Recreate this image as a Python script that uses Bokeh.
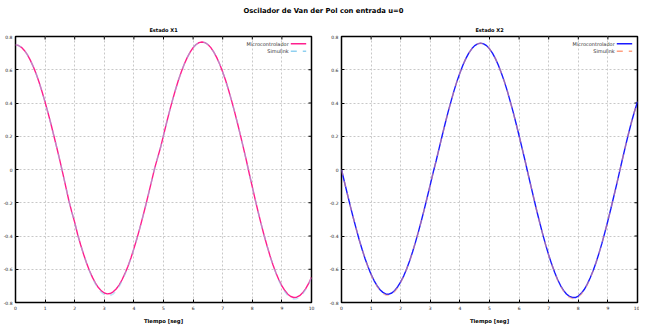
from bokeh.plotting import figure
from bokeh.models import Range1d, FixedTicker, Label, Arrow, Div
from bokeh.layouts import row, column
from bokeh.embed import file_html
from bokeh.resources import INLINE

# ---------------- data ----------------
t = [0.0, 0.1, 0.2, 0.3, 0.4, 0.5, 0.6, 0.7, 0.8, 0.9,
     1.0, 1.1, 1.2, 1.3, 1.4, 1.5, 1.6, 1.7, 1.8, 1.9,
     2.0, 2.1, 2.2, 2.3, 2.4, 2.5, 2.6, 2.7, 2.8, 2.9,
     3.0, 3.1, 3.2, 3.3, 3.4, 3.5, 3.6, 3.7, 3.8, 3.9,
     4.0, 4.1, 4.2, 4.3, 4.4, 4.5, 4.6, 4.7, 4.8, 4.9,
     5.0, 5.1, 5.2, 5.3, 5.4, 5.5, 5.6, 5.7, 5.8, 5.9,
     6.0, 6.1, 6.2, 6.3, 6.4, 6.5, 6.6, 6.7, 6.8, 6.9,
     7.0, 7.1, 7.2, 7.3, 7.4, 7.5, 7.6, 7.7, 7.8, 7.9,
     8.0, 8.1, 8.2, 8.3, 8.4, 8.5, 8.6, 8.7, 8.8, 8.9,
     9.0, 9.1, 9.2, 9.3, 9.4, 9.5, 9.6, 9.7, 9.8, 9.9, 10.0]

x1_micro = [0.750, 0.746, 0.735, 0.716, 0.691, 0.658, 0.619, 0.574, 0.523, 0.466,
            0.405, 0.340, 0.272, 0.200, 0.128, 0.053, -0.025, -0.105, -0.185, -0.255,
            -0.318, -0.391, -0.453, -0.510, -0.562, -0.609, -0.649, -0.683, -0.710, -0.730,
            -0.743, -0.748, -0.746, -0.736, -0.719, -0.695, -0.663, -0.625, -0.582, -0.532,
            -0.476, -0.417, -0.353, -0.285, -0.215, -0.142, -0.068, 0.007, 0.070, 0.132,
            0.205, 0.278, 0.348, 0.414, 0.477, 0.535, 0.587, 0.633, 0.673, 0.706,
            0.733, 0.752, 0.763, 0.767, 0.763, 0.752, 0.733, 0.706, 0.673, 0.633,
            0.587, 0.535, 0.477, 0.414, 0.348, 0.278, 0.205, 0.130, 0.054, -0.027,
            -0.104, -0.183, -0.257, -0.329, -0.397, -0.460, -0.520, -0.574, -0.622, -0.665,
            -0.700, -0.728, -0.750, -0.764, -0.770, -0.768, -0.759, -0.742, -0.718, -0.687,
            -0.648]
x1_sim = [0.750, 0.746, 0.735, 0.716, 0.691, 0.658, 0.619, 0.574, 0.523, 0.466,
          0.405, 0.340, 0.272, 0.200, 0.128, 0.053, -0.025, -0.105, -0.185, -0.255,
          -0.318, -0.391, -0.453, -0.510, -0.563, -0.611, -0.652, -0.688, -0.717, -0.739,
          -0.753, -0.759, -0.758, -0.748, -0.730, -0.704, -0.670, -0.629, -0.584, -0.533,
          -0.476, -0.417, -0.353, -0.285, -0.215, -0.142, -0.068, 0.007, 0.070, 0.132,
          0.205, 0.278, 0.348, 0.414, 0.477, 0.535, 0.587, 0.633, 0.673, 0.706,
          0.733, 0.752, 0.763, 0.767, 0.763, 0.752, 0.733, 0.706, 0.673, 0.633,
          0.587, 0.535, 0.477, 0.414, 0.348, 0.278, 0.205, 0.130, 0.054, -0.027,
          -0.104, -0.183, -0.257, -0.329, -0.397, -0.460, -0.520, -0.575, -0.624, -0.668,
          -0.705, -0.735, -0.758, -0.773, -0.779, -0.777, -0.767, -0.749, -0.723, -0.690,
          -0.650]

x2_micro = [0.000, -0.075, -0.149, -0.222, -0.292, -0.359, -0.424, -0.483, -0.538, -0.587,
            -0.631, -0.668, -0.699, -0.723, -0.739, -0.750, -0.750, -0.743, -0.728, -0.705,
            -0.676, -0.641, -0.598, -0.550, -0.496, -0.437, -0.374, -0.307, -0.237, -0.164,
            -0.091, -0.016, 0.054, 0.129, 0.203, 0.275, 0.345, 0.410, 0.473, 0.530,
            0.581, 0.627, 0.667, 0.700, 0.726, 0.745, 0.756, 0.760, 0.756, 0.745,
            0.726, 0.700, 0.667, 0.627, 0.581, 0.530, 0.473, 0.410, 0.345, 0.275,
            0.203, 0.129, 0.054, -0.024, -0.100, -0.176, -0.251, -0.322, -0.390, -0.455,
            -0.514, -0.569, -0.618, -0.662, -0.698, -0.727, -0.749, -0.763, -0.770, -0.770,
            -0.761, -0.745, -0.722, -0.691, -0.653, -0.609, -0.559, -0.503, -0.443, -0.377,
            -0.308, -0.236, -0.161, -0.086, -0.008, 0.069, 0.145, 0.218, 0.287, 0.350,
            0.408]
x2_sim = [0.000, -0.075, -0.149, -0.222, -0.292, -0.359, -0.424, -0.483, -0.538, -0.588,
          -0.633, -0.671, -0.703, -0.728, -0.745, -0.756, -0.757, -0.750, -0.734, -0.710,
          -0.679, -0.643, -0.599, -0.550, -0.496, -0.437, -0.374, -0.307, -0.237, -0.164,
          -0.091, -0.016, 0.054, 0.129, 0.203, 0.275, 0.345, 0.410, 0.473, 0.530,
          0.581, 0.627, 0.667, 0.700, 0.726, 0.745, 0.756, 0.760, 0.756, 0.745,
          0.726, 0.700, 0.667, 0.627, 0.581, 0.530, 0.473, 0.410, 0.345, 0.275,
          0.203, 0.129, 0.054, -0.024, -0.100, -0.176, -0.251, -0.322, -0.390, -0.455,
          -0.514, -0.569, -0.619, -0.664, -0.701, -0.731, -0.754, -0.769, -0.776, -0.776,
          -0.767, -0.750, -0.726, -0.694, -0.655, -0.610, -0.559, -0.503, -0.443, -0.377,
          -0.308, -0.236, -0.161, -0.086, -0.008, 0.069, 0.145, 0.218, 0.287, 0.350,
          0.408]

x_ticks = [0, 1, 2, 3, 4, 5, 6, 7, 8, 9, 10]
x_tick_labels = ["0", "1", "2", "3", "4", "5", "6", "7", "8", "9", "10"]
y_ticks = [-0.8, -0.6, -0.4, -0.2, 0.0, 0.2, 0.4, 0.6, 0.8]
y_tick_labels = ["-0.8", "-0.6", "-0.4", "-0.2", "0", "0.2", "0.4", "0.6", "0.8"]

main_title = "Oscilador de Van der Pol con entrada u=0"
titles = ["Estado X1", "Estado X2"]
series_names = ["Microcontrolador", "Simulink"]
x_label = "Tiempo [seg]"

FONT = "DejaVu Sans"
FRAME_W, FRAME_H = 296, 266
X_MIN, X_MAX = 0, 10
Y_MIN, Y_MAX = -0.8, 0.8
TICK_PX = 3


def make_fig(title, micro, sim, c_micro, c_sim, border_left, border_right):
    p = figure(frame_width=FRAME_W, frame_height=FRAME_H,
               min_border_left=border_left, min_border_right=border_right,
               min_border_top=16, min_border_bottom=23,
               x_range=Range1d(X_MIN, X_MAX), y_range=Range1d(Y_MIN, Y_MAX),
               output_backend="svg", toolbar_location=None, title=title)
    p.title.align = "center"
    p.title.text_font = FONT
    p.title.text_font_size = "5px"
    p.title.text_font_style = "bold"
    p.title.text_color = "black"
    p.title.standoff = 8

    p.outline_line_color = "black"
    p.outline_line_width = 1.5
    p.outline_line_alpha = 1.0
    p.background_fill_color = "white"
    p.border_fill_color = "white"

    for ax, ticks, labels in ((p.xaxis[0], x_ticks, x_tick_labels),
                              (p.yaxis[0], y_ticks, y_tick_labels)):
        ax.ticker = FixedTicker(ticks=ticks)
        ax.major_label_overrides = dict(zip(ticks, labels))
        ax.major_label_text_font = FONT
        ax.major_label_text_font_size = "4.5px"
        ax.major_label_text_color = "#222222"
        ax.major_label_standoff = 3
        ax.major_tick_in = TICK_PX
        ax.major_tick_out = 0
        ax.major_tick_line_color = "black"
        ax.minor_tick_line_color = None
        ax.axis_line_color = None

    p.xaxis.axis_label = x_label
    p.xaxis.axis_label_text_font = FONT
    p.xaxis.axis_label_text_font_size = "5.3px"
    p.xaxis.axis_label_text_font_style = "bold"
    p.xaxis.axis_label_text_color = "black"
    p.xaxis.axis_label_standoff = 5

    for g in (p.xgrid[0], p.ygrid[0]):
        g.grid_line_color = "#c8c8c8"
        g.grid_line_dash = "2 2"
        g.grid_line_width = 1
    p.xgrid.ticker = FixedTicker(ticks=x_ticks)
    p.ygrid.ticker = FixedTicker(ticks=y_ticks)

    # mirrored tick marks on the right and top edges of the frame
    dx = TICK_PX * (X_MAX - X_MIN) / FRAME_W
    dy = TICK_PX * (Y_MAX - Y_MIN) / FRAME_H
    p.segment(x0=[X_MAX] * len(y_ticks), y0=y_ticks,
              x1=[X_MAX - dx] * len(y_ticks), y1=y_ticks, line_color="black", line_width=1)
    p.segment(x0=x_ticks, y0=[Y_MAX] * len(x_ticks),
              x1=x_ticks, y1=[Y_MAX - dy] * len(x_ticks), line_color="black", line_width=1)

    p.line(t, micro, line_color=c_micro, line_width=1.4)
    p.line(t, sim, line_color=c_sim, line_width=1.5, line_dash="6 6", line_alpha=0.55)

    # gnuplot-style key (text left, sample right)
    for yk, name, col, dash in ((0.756, series_names[0], c_micro, "solid"),
                                (0.712, series_names[1], c_sim, "6 6")):
        p.add_layout(Label(x=9.23, y=yk, text=name, text_align="right",
                           text_baseline="middle", text_font=FONT,
                           text_font_size="5px", text_color="#333333"))
        p.add_layout(Arrow(x_start=9.3, y_start=yk, x_end=9.82, y_end=yk, end=None,
                           line_color=col, line_width=1.5, line_dash=dash))
    return p


p1 = make_fig(titles[0], x1_micro, x1_sim, "#ff1f8e", "#8fd0f0", 13, 15)
p2 = make_fig(titles[1], x2_micro, x2_sim, "#1a1aff", "#ff9f80", 15, 2)

head = Div(text="<b>" + main_title + "</b>", width=637, height=10,
           styles={"text-align": "center", "font-size": "6.8px", "font-family": FONT,
                   "line-height": "13px", "width": "637px"})

layout = column(head, row(p1, p2))

open("out.html", "w").write(file_html(layout, INLINE))
